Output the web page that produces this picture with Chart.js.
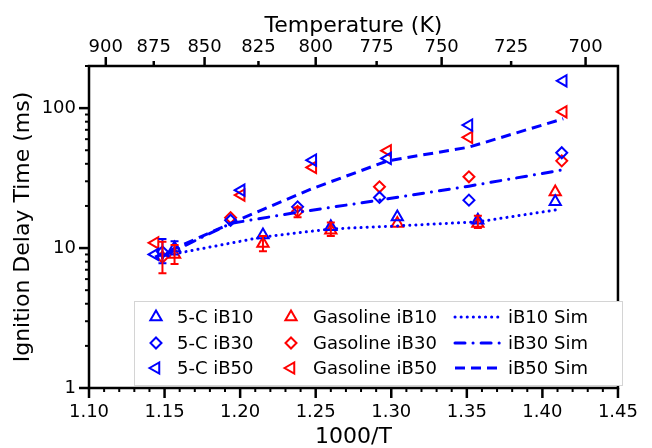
<!DOCTYPE html>
<html><head><meta charset="utf-8">
<script src="https://cdn.jsdelivr.net/npm/chart.js@4.4.1/dist/chart.umd.min.js"></script>
<style>html,body{margin:0;padding:0;background:#fff;}#wrap{width:652px;height:448px;}</style>
</head><body><div id="wrap"><canvas id="c" width="652" height="448"></canvas></div>
<script>
// ---------- tick labels ----------
const xTicks = [1.10, 1.15, 1.20, 1.25, 1.30, 1.35, 1.40, 1.45];
const yTicks = [1, 10, 100];
const tempTicks = [900, 875, 850, 825, 800, 775, 750, 725, 700];
const tempMajor = [900, 850, 800, 750, 700];

// ---------- 5-C measurements ----------
const x5C_iB10 = [1.1566, 1.2151, 1.2600, 1.3040, 1.3573, 1.4085];
const y5C_iB10 = [10.0, 12.4, 14.2, 16.7, 15.8, 21.4];
const lo5C_iB10 = [9.0, null, null, null, null, null];
const hi5C_iB10 = [11.2, null, null, null, null, null];

const x5C_iB30 = [1.1486, 1.1937, 1.2380, 1.2922, 1.3514, 1.4128];
const y5C_iB30 = [9.4, 15.8, 19.7, 23.0, 22.0, 48.0];
const lo5C_iB30 = [7.8, null, null, null, null, null];
const hi5C_iB30 = [11.6, null, null, null, null, null];

const x5C_iB50 = [1.1437, 1.2007, 1.2481, 1.2976, 1.3514, 1.4138];
const y5C_iB50 = [9.0, 25.9, 42.5, 43.7, 75.6, 156.7];

// ---------- Gasoline measurements ----------
const xGas_iB10 = [1.1566, 1.2151, 1.2600, 1.3040, 1.3573, 1.4085];
const yGas_iB10 = [9.0, 10.8, 13.4, 15.0, 15.0, 25.2];
const loGas_iB10 = [7.7, 9.5, 12.2, null, 13.9, null];
const hiGas_iB10 = [10.5, 12.2, 15.2, null, 17.0, null];

const xGas_iB30 = [1.1486, 1.1937, 1.2380, 1.2922, 1.3514, 1.4128];
const yGas_iB30 = [8.6, 16.5, 18.3, 27.4, 32.3, 42.0];
const loGas_iB30 = [6.6, null, 16.6, null, null, null];
const hiGas_iB30 = [11.1, null, 19.5, null, null, null];

const xGas_iB50 = [1.1437, 1.2007, 1.2481, 1.2976, 1.3514, 1.4138];
const yGas_iB50 = [10.9, 23.9, 37.7, 49.6, 61.8, 94.1];

// ---------- simulations ----------
const xSim_iB10 = [1.1486, 1.1566, 1.2151, 1.2600, 1.3040, 1.3573, 1.4085];
const ySim_iB10 = [8.5, 9.1, 12.0, 13.7, 14.4, 15.4, 18.7];
const xSim_iB30 = [1.1486, 1.1937, 1.2380, 1.2922, 1.3514, 1.4128];
const ySim_iB30 = [8.7, 15.0, 18.0, 22.0, 27.7, 36.1];
const xSim_iB50 = [1.1437, 1.2007, 1.2481, 1.2976, 1.3514, 1.4138];
const ySim_iB50 = [8.6, 16.2, 26.7, 42.0, 52.6, 84.0];

const BLUE = '#0000ff', RED = '#ff0000';
const FONT = '"DejaVu Sans", Verdana, sans-serif';
Chart.defaults.font.family = FONT;
Chart.defaults.color = '#000';

const pts = (xs, ys) => xs.map((x, i) => ({x: x, y: ys[i]}));
const DOT = [0.1, 6], DASHDOT = [10, 8, 0.1, 8], DASH = [10, 6];

function markerSet(label, xs, ys, color, style, lo, hi) {
  const shape = style === 'left' ? 'triangle' : style;
  return {
    label: label, data: pts(xs, ys), showLine: false,
    pointStyle: shape, pointRotation: style === 'left' ? -90 : 0,
    pointRadius: shape === 'rectRot' ? 5.5 : 6.5,
    pointBorderColor: color, pointBackgroundColor: 'rgba(0,0,0,0)',
    pointBorderWidth: 2, borderColor: color, backgroundColor: color,
    errLo: lo, errHi: hi
  };
}
function simSet(label, xs, ys, dash, cap) {
  return {
    label: label, data: pts(xs, ys), showLine: true, pointRadius: 0,
    borderColor: BLUE, borderWidth: 3, borderDash: dash, borderCapStyle: cap,
    tension: 0, fill: false
  };
}

const datasets = [
  simSet('iB10 Sim', xSim_iB10, ySim_iB10, DOT, 'round'),
  simSet('iB30 Sim', xSim_iB30, ySim_iB30, DASHDOT, 'round'),
  simSet('iB50 Sim', xSim_iB50, ySim_iB50, DASH, 'butt'),
  markerSet('5-C iB10', x5C_iB10, y5C_iB10, BLUE, 'triangle', lo5C_iB10, hi5C_iB10),
  markerSet('5-C iB30', x5C_iB30, y5C_iB30, BLUE, 'rectRot', lo5C_iB30, hi5C_iB30),
  markerSet('5-C iB50', x5C_iB50, y5C_iB50, BLUE, 'left'),
  markerSet('Gasoline iB10', xGas_iB10, yGas_iB10, RED, 'triangle', loGas_iB10, hiGas_iB10),
  markerSet('Gasoline iB30', xGas_iB30, yGas_iB30, RED, 'rectRot', loGas_iB30, hiGas_iB30),
  markerSet('Gasoline iB50', xGas_iB50, yGas_iB50, RED, 'left')
];

function drawMarker(ctx, kind, x, y, color) {
  ctx.save();
  ctx.strokeStyle = color; ctx.lineWidth = 2; ctx.beginPath();
  if (kind === 'triangle') {
    const r = 6.5;
    ctx.moveTo(x, y - r);
    ctx.lineTo(x + r * 0.866, y + r / 2);
    ctx.lineTo(x - r * 0.866, y + r / 2);
  } else if (kind === 'left') {
    const r = 6.5;
    ctx.moveTo(x - r, y);
    ctx.lineTo(x + r / 2, y - r * 0.866);
    ctx.lineTo(x + r / 2, y + r * 0.866);
  } else {
    const r = 5.5;
    ctx.moveTo(x, y - r); ctx.lineTo(x + r, y); ctx.lineTo(x, y + r); ctx.lineTo(x - r, y);
  }
  ctx.closePath(); ctx.stroke(); ctx.restore();
}

const errorBars = {
  id: 'errorBars',
  afterDatasetsDraw(chart) {
    const {ctx, scales: {x, y}} = chart;
    ctx.save();
    chart.data.datasets.forEach(ds => {
      if (!ds.errLo) return;
      ds.data.forEach((p, i) => {
        const lo = ds.errLo[i], hi = ds.errHi[i];
        if (lo == null) return;
        const px = x.getPixelForValue(p.x);
        const y1 = y.getPixelForValue(lo), y2 = y.getPixelForValue(hi);
        ctx.strokeStyle = ds.borderColor; ctx.lineWidth = 2;
        ctx.beginPath();
        ctx.moveTo(px, y1); ctx.lineTo(px, y2);
        ctx.moveTo(px - 4, y1); ctx.lineTo(px + 4, y1);
        ctx.moveTo(px - 4, y2); ctx.lineTo(px + 4, y2);
        ctx.stroke();
      });
    });
    ctx.restore();
  }
};

const frame = {
  id: 'frame',
  afterDraw(chart) {
    const {ctx, chartArea: a, scales: {x, y, x2}} = chart;
    ctx.save();
    ctx.strokeStyle = '#000'; ctx.lineCap = 'butt';
    const line = (x1, y1, xx, yy, w) => { ctx.lineWidth = w; ctx.beginPath(); ctx.moveTo(x1, y1); ctx.lineTo(xx, yy); ctx.stroke(); };
    for (let k = 110; k <= 145; k++) {
      const px = x.getPixelForValue(k / 100);
      const major = k % 5 === 0;
      line(px, a.bottom, px, a.bottom + (major ? 10 : 4), major ? 2.5 : 2);
    }
    tempTicks.forEach(t => {
      const px = x2.getPixelForValue(1000 / t);
      const major = tempMajor.includes(t);
      line(px, a.top, px, a.top - (major ? 9 : 5), 2.5);
    });
    for (let d = 1; d <= 100; d *= 10) {
      for (let m = 1; m <= 9; m++) {
        const v = d * m;
        if (v > 200) break;
        const py = y.getPixelForValue(v);
        line(a.left, py, a.left - (m === 1 ? 10 : 4), py, m === 1 ? 2.5 : 2);
      }
    }
    ctx.lineWidth = 2.5;
    ctx.strokeRect(a.left, a.top, a.right - a.left, a.bottom - a.top);

    // legend
    ctx.lineWidth = 1; ctx.strokeStyle = '#d4d4d4';
    ctx.fillStyle = '#fff';
    ctx.fillRect(134, 301, 489, 84);
    ctx.strokeRect(134.5, 301.5, 488, 84);
    const rows = [317, 343, 368];
    const col1 = [['triangle', '5-C iB10'], ['rectRot', '5-C iB30'], ['left', '5-C iB50']];
    const col2 = [['triangle', 'Gasoline iB10'], ['rectRot', 'Gasoline iB30'], ['left', 'Gasoline iB50']];
    const col3 = [[DOT, 'round', 'iB10 Sim'], [DASHDOT, 'round', 'iB30 Sim'], [DASH, 'butt', 'iB50 Sim']];
    ctx.font = '18px ' + FONT; ctx.textBaseline = 'middle'; ctx.textAlign = 'left';
    rows.forEach((ry, i) => {
      drawMarker(ctx, col1[i][0], 156, ry, BLUE);
      drawMarker(ctx, col2[i][0], 291, ry, RED);
      ctx.fillStyle = '#000';
      ctx.fillText(col1[i][1], 177, ry + 1);
      ctx.fillText(col2[i][1], 313, ry + 1);
      ctx.fillText(col3[i][2], 508, ry + 1);
      ctx.save();
      ctx.strokeStyle = BLUE; ctx.lineWidth = 3; ctx.setLineDash(col3[i][0]); ctx.lineCap = col3[i][1];
      ctx.beginPath(); ctx.moveTo(455, ry); ctx.lineTo(500, ry); ctx.stroke();
      ctx.restore();
    });
    ctx.restore();
  }
};

new Chart(document.getElementById('c'), {
  type: 'scatter',
  data: {datasets: datasets},
  plugins: [errorBars, frame],
  options: {
    responsive: false, animation: false, devicePixelRatio: 1,
    layout: {padding: {left: 0, right: 21, top: 0, bottom: 0}},
    plugins: {legend: {display: false}, tooltip: {enabled: false}},
    scales: {
      x: {
        type: 'linear', position: 'bottom', min: 1.10, max: 1.45,
        afterBuildTicks: s => { s.ticks = xTicks.map(v => ({value: v})); },
        afterFit: s => { s.height = 60; },
        grid: {display: false, drawTicks: false}, border: {display: false},
        ticks: {font: {size: 18}, color: '#000', padding: 14, maxRotation: 0, autoSkip: false,
                callback: v => v.toFixed(2)},
        title: {display: true, text: '1000/T', color: '#000', font: {size: 22, lineHeight: 1}, padding: {top: 0, bottom: 0}}
      },
      x2: {
        type: 'linear', position: 'top', min: 1.10, max: 1.45,
        afterBuildTicks: s => { s.ticks = tempTicks.map(t => ({value: 1000 / t})); },
        afterFit: s => { s.height = 66; },
        grid: {display: false, drawTicks: false}, border: {display: false},
        ticks: {font: {size: 18}, color: '#000', padding: 8, maxRotation: 0, autoSkip: false,
                callback: (v, i) => String(tempTicks[i])},
        title: {display: true, text: 'Temperature (K)', color: '#000', font: {size: 22, lineHeight: 1}, padding: {top: 15, bottom: 0}}
      },
      y: {
        type: 'logarithmic', position: 'left', min: 1, max: 200,
        afterBuildTicks: s => { s.ticks = yTicks.map(v => ({value: v})); },
        afterFit: s => { s.width = 89; },
        grid: {display: false, drawTicks: false}, border: {display: false},
        ticks: {font: {size: 18}, color: '#000', padding: 13, autoSkip: false,
                callback: v => String(v)},
        title: {display: true, text: 'Ignition Delay Time (ms)', color: '#000', font: {size: 22, lineHeight: 1}, padding: {top: 12, bottom: 0}}
      }
    }
  }
});
</script></body></html>
